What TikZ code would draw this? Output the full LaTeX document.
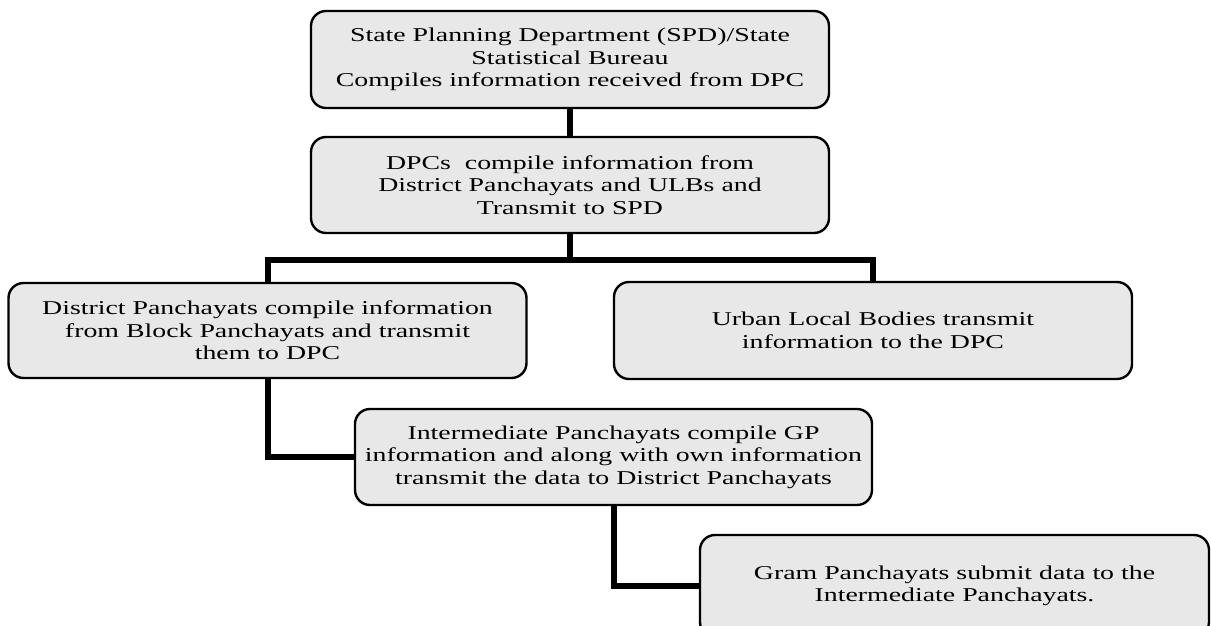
\documentclass[tikz,border=0pt]{standalone}
\usepackage{fontspec}
\setmainfont{Liberation Serif}[FakeStretch=1.42]
\usepackage{tikz}
\usetikzlibrary{calc}
\definecolor{boxgray}{HTML}{E8E8E8}

\begin{document}
\begin{tikzpicture}[x=0.5pt, y=-0.5pt,
    stagebox/.style={draw, line width=1.2pt, fill=boxgray, rounded corners=7.5pt,
        align=center, inner sep=0pt, minimum width=259pt, minimum height=48pt,
        font=\fontsize{9.8}{11.25}\selectfont},
    link/.style={line width=3pt}]
    \useasboundingbox (0,0) rectangle (1211,626);
    \clip (0,0) rectangle (1211,626);

    % State level
    \node[stagebox, minimum height=48.5pt] (spd) at (570,59.5)
        {State Planning Department (SPD)/State\\Statistical Bureau\\Compiles information received from DPC};

    % District planning committees
    \node[stagebox] (dpc) at (570,185)
        {DPCs\ \ compile information from\\District Panchayats and ULBs and\\Transmit to SPD};
    \coordinate (split) at (570,260);

    % District level and urban bodies
    \node[stagebox, minimum height=47.5pt] (dp) at (267.5,330.5)
        {District Panchayats compile information\\from Block Panchayats and transmit\\them to DPC};
    \node[stagebox, minimum height=48.5pt] (ulb) at (873,330.5)
        {Urban Local Bodies transmit\\information to the DPC};

    % Block level
    \node[stagebox, minimum width=258.5pt] (ip) at (613.5,457)
        {Intermediate Panchayats compile GP\\information and along with own information\\transmit the data to District Panchayats};

    % Village level (runs off the page)
    \node[stagebox, minimum width=254.5pt, minimum height=51pt] (gp) at (954.5,586)
        {Gram Panchayats submit data to the\\Intermediate Panchayats.};

    % Connectors
    \draw[link] (spd.south) -- (dpc.north);
    \draw[link] (dpc.south) -- (split);
    \draw[link] (dp.north) |- (split) -| (ulb.north);
    \draw[link] (dp.south) |- (ip.west);
    \draw[link] (ip.south) |- (gp.west);

\end{tikzpicture}
\end{document}
